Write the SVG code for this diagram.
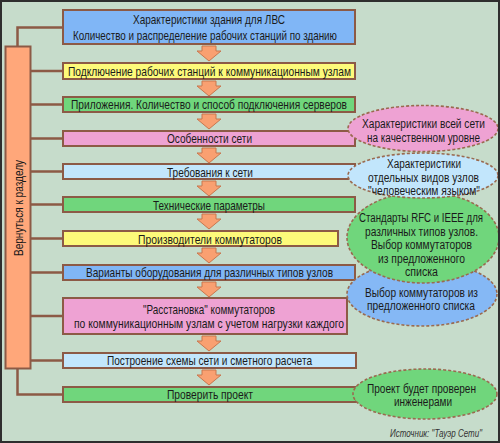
<svg xmlns="http://www.w3.org/2000/svg" xmlns:xlink="http://www.w3.org/1999/xlink" width="500" height="443" viewBox="0 0 500 443">
<style>
.box{stroke:#8c5a46;stroke-width:2}
.t{font-family:"Liberation Sans",Arial,sans-serif;font-size:13px;fill:#1a1a1a}
.e{font-size:12.5px}
.ell{stroke:#9a6a50;stroke-width:1.6;stroke-dasharray:3 2}
.conn{fill:none;stroke:#8c5a46;stroke-width:2.5}
.blue{fill:#80b6f6}.yel{fill:#fdfa7a}.grn{fill:#70d67c}.pnk{fill:#eea2d3}.lbl{fill:#c2e6fc}
</style>
<defs>
<path id="arr" d="M-7,0 H7 V5 H12 L0,15 L-12,5 H-7 Z" fill="#f9a071" stroke="#c8764e" stroke-width="1"/>
</defs>
<rect x="0" y="0" width="500" height="443" fill="#c6dccb"/>

<g id="connectors">
<path class="conn" d="M62,27.5 H17.5 V46"/>
<path class="conn" d="M17.5,369 V394.5 H62"/>
<path class="conn" d="M31,71 H62 M31,104.5 H62 M31,138.5 H62 M31,171.5 H62 M31,204.5 H62 M31,238.5 H62 M31,272.5 H62 M31,316 H62 M31,360.5 H62"/>
<use xlink:href="#arr" href="#arr" transform="translate(209,46)"/>
<use xlink:href="#arr" href="#arr" transform="translate(209,81)"/>
<use xlink:href="#arr" href="#arr" transform="translate(209,114)"/>
<use xlink:href="#arr" href="#arr" transform="translate(209,148)"/>
<use xlink:href="#arr" href="#arr" transform="translate(209,181)"/>
<use xlink:href="#arr" href="#arr" transform="translate(209,214)"/>
<use xlink:href="#arr" href="#arr" transform="translate(209,248)"/>
<use xlink:href="#arr" href="#arr" transform="translate(209,282)"/>
<use xlink:href="#arr" href="#arr" transform="translate(209,336)"/>
<use xlink:href="#arr" href="#arr" transform="translate(209,370)"/>
</g>

<g id="back">
<rect class="box" x="5.5" y="46.5" width="25" height="322" fill="#ffa77a"/>
<text class="t" transform="translate(22.5,208) rotate(-90)" text-anchor="middle" textLength="96" lengthAdjust="spacingAndGlyphs">Вернуться к разделу</text>
</g>

<g id="n1"><rect class="box blue" x="63" y="10" width="292" height="34"/>
<text class="t" x="133" y="23.5" textLength="152" lengthAdjust="spacingAndGlyphs">Характеристики здания для ЛВС</text>
<text class="t" x="73" y="39.5" textLength="264" lengthAdjust="spacingAndGlyphs">Количество и распределение рабочих станций по зданию</text></g>

<g id="n2"><rect class="box yel" x="63" y="63" width="292" height="16"/>
<text class="t" x="68" y="75.5" textLength="283" lengthAdjust="spacingAndGlyphs">Подключение рабочих станций к коммуникационным узлам</text></g>

<g id="n3"><rect class="box grn" x="63" y="97" width="292" height="15"/>
<text class="t" x="71" y="109" textLength="276" lengthAdjust="spacingAndGlyphs">Приложения. Количество и способ подключения серверов</text></g>

<g id="n4"><rect class="box pnk" x="63" y="131" width="292" height="15"/>
<text class="t" x="167" y="143" textLength="85" lengthAdjust="spacingAndGlyphs">Особенности сети</text></g>

<g id="n5"><rect class="box lbl" x="63" y="164" width="292" height="15"/>
<text class="t" x="167" y="176.5" textLength="86" lengthAdjust="spacingAndGlyphs">Требования к сети</text></g>

<g id="n6"><rect class="box grn" x="63" y="197" width="292" height="15"/>
<text class="t" x="153" y="210" textLength="112" lengthAdjust="spacingAndGlyphs">Технические параметры</text></g>

<g id="n7"><rect class="box yel" x="63" y="231" width="275" height="15"/>
<text class="t" x="138" y="243.5" textLength="144" lengthAdjust="spacingAndGlyphs">Производители коммутаторов</text></g>

<g id="n8"><rect class="box blue" x="63" y="265" width="292" height="15"/>
<text class="t" x="86" y="277" textLength="247" lengthAdjust="spacingAndGlyphs">Варианты оборудования для различных типов узлов</text></g>

<g id="n9"><rect class="box pnk" x="63" y="298" width="284" height="36"/>
<text class="t" x="143" y="313.5" textLength="132" lengthAdjust="spacingAndGlyphs">"Расстановка" коммутаторов</text>
<text class="t" x="74" y="327.5" textLength="270" lengthAdjust="spacingAndGlyphs">по коммуникационным узлам с учетом нагрузки каждого</text></g>

<g id="n10"><rect class="box lbl" x="63" y="353" width="293" height="15"/>
<text class="t" x="107" y="365" textLength="205" lengthAdjust="spacingAndGlyphs">Построение схемы сети и сметного расчета</text></g>

<g id="n11"><rect class="box grn" x="63" y="387" width="293" height="15"/>
<text class="t" x="167" y="398.5" textLength="86" lengthAdjust="spacingAndGlyphs">Проверить проект</text></g>

<g id="e4"><ellipse class="ell" cx="422" cy="294" rx="75" ry="32" fill="#85b8f5"/>
<text class="t e" x="365" y="297" textLength="113" lengthAdjust="spacingAndGlyphs">Выбор коммутаторов из</text>
<text class="t e" x="367" y="310" textLength="108" lengthAdjust="spacingAndGlyphs">предложенного списка</text></g>

<g id="e3"><ellipse class="ell" cx="423" cy="237.5" rx="76" ry="45.5" fill="#70d67c"/>
<text class="t e" x="359" y="222" textLength="124" lengthAdjust="spacingAndGlyphs">Стандарты RFC и IEEE для</text>
<text class="t e" x="365" y="235.5" textLength="113" lengthAdjust="spacingAndGlyphs">различных типов узлов.</text>
<text class="t e" x="371" y="249" textLength="101" lengthAdjust="spacingAndGlyphs">Выбор коммутаторов</text>
<text class="t e" x="378" y="262.5" textLength="87" lengthAdjust="spacingAndGlyphs">из предложенного</text>
<text class="t e" x="405" y="276" textLength="33" lengthAdjust="spacingAndGlyphs">списка</text></g>

<g id="e1"><ellipse class="ell" cx="423" cy="128.5" rx="75" ry="23" fill="#eea2d3"/>
<text class="t e" x="362" y="128" textLength="123" lengthAdjust="spacingAndGlyphs">Характеристики всей сети</text>
<text class="t e" x="367" y="141.5" textLength="113" lengthAdjust="spacingAndGlyphs">на качественном уровне</text></g>

<g id="e2"><ellipse class="ell" cx="423" cy="175.5" rx="75" ry="22.5" fill="#c2e6fc"/>
<text class="t e" x="387" y="168" textLength="74" lengthAdjust="spacingAndGlyphs">Характеристики</text>
<text class="t e" x="368" y="181.5" textLength="111" lengthAdjust="spacingAndGlyphs">отдельных видов узлов</text>
<text class="t e" x="368" y="195" textLength="112" lengthAdjust="spacingAndGlyphs">"человеческим языком"</text></g>

<g id="e5"><ellipse class="ell" cx="425" cy="394" rx="72" ry="25" fill="#70d67c"/>
<text class="t e" x="367" y="392.5" textLength="109" lengthAdjust="spacingAndGlyphs">Проект будет проверен</text>
<text class="t e" x="394" y="405.5" textLength="58" lengthAdjust="spacingAndGlyphs">инженерами</text></g>

<text class="t" x="390" y="436.5" style="font-size:10.5px;font-style:italic;fill:#333" textLength="92" lengthAdjust="spacingAndGlyphs">Источник: "Тауэр Сети"</text>

<rect x="1" y="1" width="498" height="441" fill="none" stroke="#2e2e2e" stroke-width="2"/>
</svg>
